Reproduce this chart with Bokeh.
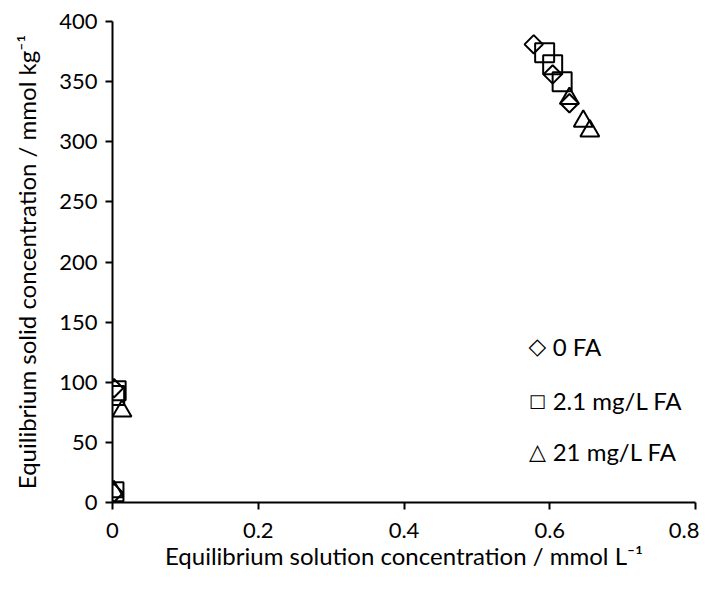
import math
from bokeh.plotting import figure
from bokeh.models import Range1d, FixedTicker, Label
from bokeh.embed import file_html
from bokeh.resources import INLINE

# Data
fa0_x = [0.578, 0.604, 0.627, 0.002, 0.002]
fa0_y = [381, 356, 332, 95, 8]
fa21mg_x = [0.593, 0.604, 0.617, 0.005, 0.003, 0.002]
fa21mg_y = [374, 364, 350, 93, 89, 9]
fa21_x = [0.627, 0.646, 0.655, 0.013, 0.002]
fa21_y = [336, 317, 309, 76, 9]

series_labels = ["0 FA", "2.1 mg/L FA", "21 mg/L FA"]
legend_symbols = ["\u25c7", "\u25a1", "\u25b3"]
legend_symbol_sizes = ["23px", "18px", "22px"]
x_ticks = [0, 0.2, 0.4, 0.6, 0.8]
y_ticks = [0, 50, 100, 150, 200, 250, 300, 350, 400]

FONT = "Lato"

p = figure(width=699, height=581, output_backend="svg", toolbar_location=None,
           x_range=Range1d(0, 0.8), y_range=Range1d(0, 400),
           min_border_left=112, min_border_right=4, min_border_top=21, min_border_bottom=79)
p.outline_line_color = None
p.xgrid.visible = False
p.ygrid.visible = False

for ax in (p.xaxis[0], p.yaxis[0]):
    ax.axis_line_width = 2
    ax.axis_line_color = "black"
    ax.major_tick_line_width = 2
    ax.major_tick_line_color = "black"
    ax.major_tick_out = 7
    ax.major_tick_in = 0
    ax.minor_tick_line_color = None
    ax.major_label_text_font = FONT
    ax.major_label_text_font_size = "22px"
    ax.major_label_text_color = "black"
    ax.axis_label_text_font = FONT
    ax.axis_label_text_font_size = "24px"
    ax.axis_label_text_font_style = "normal"
    ax.axis_label_text_color = "black"

p.xaxis.ticker = FixedTicker(ticks=x_ticks)
p.yaxis.ticker = FixedTicker(ticks=y_ticks)
p.xaxis.major_label_overrides = {0: "0", 0.2: "0.2", 0.4: "0.4", 0.6: "0.6", 0.8: "0.8"}
p.xaxis.major_label_standoff = 13
p.yaxis.major_label_standoff = 8
p.xaxis.axis_label = "Equilibrium solution concentration / mmol L\u207b\u00b9"
p.yaxis.axis_label = "Equilibrium solid concentration / mmol kg\u207b\u00b9"
p.xaxis.axis_label_standoff = 0
p.yaxis.axis_label_standoff = 15

p.scatter(fa0_x, fa0_y, marker="square", angle=math.pi/4, size=13,
          fill_color=None, line_color="black", line_width=2)
p.scatter(fa21mg_x, fa21mg_y, marker="square", size=19,
          fill_color=None, line_color="black", line_width=2)
p.scatter(fa21_x, fa21_y, marker="triangle", size=19,
          fill_color=None, line_color="black", line_width=2)

# Legend as a text box (symbols + labels), as in the reference
legend_y = [130, 85, 42]
for sym, ssz, lab, ly in zip(legend_symbols, legend_symbol_sizes, series_labels, legend_y):
    p.add_layout(Label(x=0.583, y=ly, text=sym, text_align="center",
                       text_baseline="middle", text_font="DejaVu Sans",
                       text_font_size=ssz, text_color="black"))
    p.add_layout(Label(x=0.604, y=ly, text=lab, text_align="left",
                       text_baseline="middle", text_font=FONT,
                       text_font_size="24px", text_color="black"))

open("out.html", "w").write(file_html(p, INLINE))
